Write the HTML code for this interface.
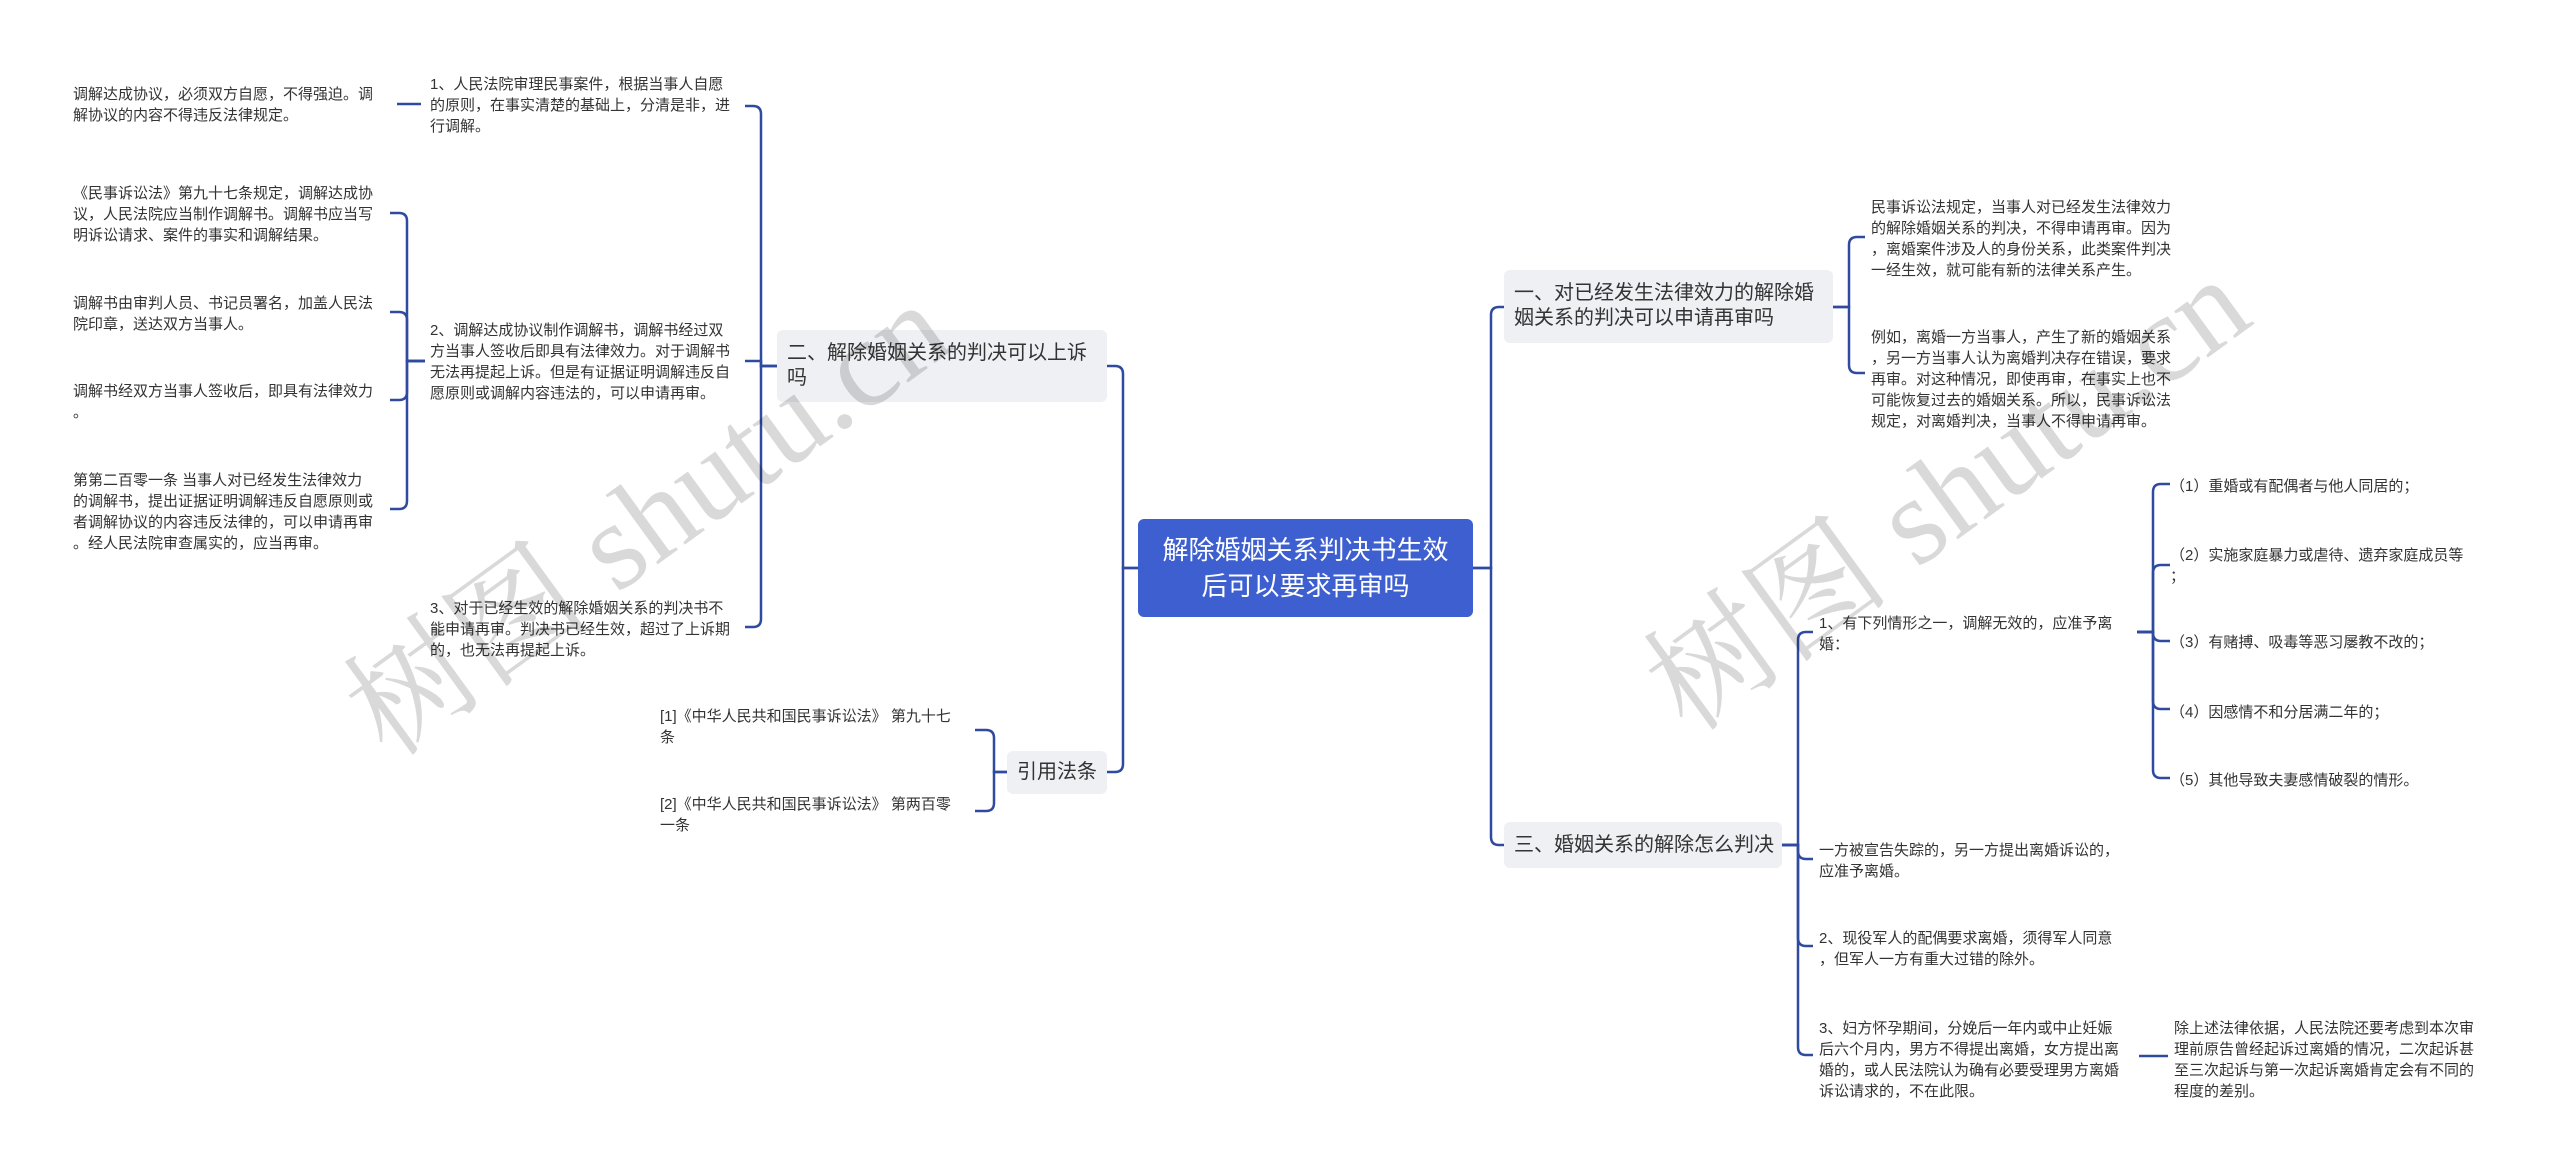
<!DOCTYPE html>
<html><head><meta charset="utf-8"><style>
html,body{margin:0;padding:0;background:#fff;}
#c{position:relative;width:2560px;height:1171px;overflow:hidden;font-family:"Liberation Sans","Noto Sans CJK SC",sans-serif;}
.t{position:absolute;font-size:15px;line-height:21px;color:#333;white-space:nowrap;}
.b{position:absolute;background:#eef0f4;border-radius:6px;color:#333;font-size:20px;line-height:25px;box-sizing:border-box;padding:0 10px;white-space:nowrap;}
.m{position:absolute;background:#3d5fcf;border-radius:6px;color:#fff;font-size:26px;line-height:36px;text-align:center;box-sizing:border-box;}
.w{position:absolute;font-family:"Liberation Serif","Noto Serif CJK SC",serif;font-size:125px;color:rgba(0,0,0,0.15);white-space:nowrap;transform:rotate(-36deg);transform-origin:center;}
svg{position:absolute;left:0;top:0;}
</style></head><body><div id="c">
<svg width="2560" height="1171" fill="none" stroke="#2f4a9f" stroke-width="2.5">
<path d="M1473 568 H1491 V315 Q1491 307 1499 307 H1504"/>
<path d="M1473 568 H1491 V837 Q1491 845 1499 845 H1504"/>
<path d="M1138 568 H1123 V374 Q1123 366 1115 366 H1107"/>
<path d="M1138 568 H1123 V764 Q1123 772 1115 772 H1107"/>
<path d="M777 366 H761 V114 Q761 106 753 106 H745"/>
<path d="M777 366 H761 V361 H745"/>
<path d="M777 366 H761 V619 Q761 627 753 627 H745"/>
<path d="M421 104 H397"/>
<path d="M425 361 H407 V221 Q407 213 399 213 H390"/>
<path d="M425 361 H407 V320 Q407 312 399 312 H390"/>
<path d="M425 361 H407 V392 Q407 400 399 400 H390"/>
<path d="M425 361 H407 V501 Q407 509 399 509 H390"/>
<path d="M1007 772 H994 V738 Q994 730 986 730 H975"/>
<path d="M1007 772 H994 V803 Q994 811 986 811 H975"/>
<path d="M1833 307 H1849 V245 Q1849 237 1857 237 H1865"/>
<path d="M1833 307 H1849 V365 Q1849 373 1857 373 H1865"/>
<path d="M1782 845 H1798 V640 Q1798 632 1806 632 H1813"/>
<path d="M1782 845 H1798 V851 Q1798 859 1806 859 H1813"/>
<path d="M1782 845 H1798 V938 Q1798 946 1806 946 H1813"/>
<path d="M1782 845 H1798 V1047 Q1798 1055 1806 1055 H1813"/>
<path d="M2137 632 H2153 V492 Q2153 484 2161 484 H2170"/>
<path d="M2137 632 H2153 V573 Q2153 565 2161 565 H2170"/>
<path d="M2137 632 H2153 V633 Q2153 641 2161 641 H2170"/>
<path d="M2137 632 H2153 V701 Q2153 709 2161 709 H2170"/>
<path d="M2137 632 H2153 V770 Q2153 778 2161 778 H2170"/>
<path d="M2139 1056 H2168"/>
</svg>

<div class="m" style="left:1138px;top:519px;width:335px;height:98px;padding-top:13px;">解除婚姻关系判决书生效<br>后可以要求再审吗</div>
<div class="b" style="left:777px;top:330px;width:330px;height:72px;padding-top:11px;">二、解除婚姻关系的判决可以上诉<br>吗</div>
<div class="b" style="left:1007px;top:751px;width:100px;height:43px;padding-top:9px;">引用法条</div>
<div class="b" style="left:1504px;top:270px;width:329px;height:73px;padding-top:11px;">一、对已经发生法律效力的解除婚<br>姻关系的判决可以申请再审吗</div>
<div class="b" style="left:1504px;top:822px;width:278px;height:46px;padding-top:11px;">三、婚姻关系的解除怎么判决</div>

<div class="t" style="left:73px;top:84px;">调解达成协议，必须双方自愿，不得强迫。调<br>解协议的内容不得违反法律规定。</div>
<div class="t" style="left:73px;top:183px;">《民事诉讼法》第九十七条规定，调解达成协<br>议，人民法院应当制作调解书。调解书应当写<br>明诉讼请求、案件的事实和调解结果。</div>
<div class="t" style="left:73px;top:293px;">调解书由审判人员、书记员署名，加盖人民法<br>院印章，送达双方当事人。</div>
<div class="t" style="left:73px;top:381px;">调解书经双方当事人签收后，即具有法律效力<br>。</div>
<div class="t" style="left:73px;top:470px;">第第二百零一条 当事人对已经发生法律效力<br>的调解书，提出证据证明调解违反自愿原则或<br>者调解协议的内容违反法律的，可以申请再审<br>。经人民法院审查属实的，应当再审。</div>

<div class="t" style="left:430px;top:74px;">1、人民法院审理民事案件，根据当事人自愿<br>的原则，在事实清楚的基础上，分清是非，进<br>行调解。</div>
<div class="t" style="left:430px;top:320px;">2、调解达成协议制作调解书，调解书经过双<br>方当事人签收后即具有法律效力。对于调解书<br>无法再提起上诉。但是有证据证明调解违反自<br>愿原则或调解内容违法的，可以申请再审。</div>
<div class="t" style="left:430px;top:598px;">3、对于已经生效的解除婚姻关系的判决书不<br>能申请再审。判决书已经生效，超过了上诉期<br>的，也无法再提起上诉。</div>

<div class="t" style="left:660px;top:706px;">[1]《中华人民共和国民事诉讼法》 第九十七<br>条</div>
<div class="t" style="left:660px;top:794px;">[2]《中华人民共和国民事诉讼法》 第两百零<br>一条</div>

<div class="t" style="left:1871px;top:197px;">民事诉讼法规定，当事人对已经发生法律效力<br>的解除婚姻关系的判决，不得申请再审。因为<br>，离婚案件涉及人的身份关系，此类案件判决<br>一经生效，就可能有新的法律关系产生。</div>
<div class="t" style="left:1871px;top:327px;">例如，离婚一方当事人，产生了新的婚姻关系<br>，另一方当事人认为离婚判决存在错误，要求<br>再审。对这种情况，即使再审，在事实上也不<br>可能恢复过去的婚姻关系。所以，民事诉讼法<br>规定，对离婚判决，当事人不得申请再审。</div>

<div class="t" style="left:1819px;top:613px;">1、有下列情形之一，调解无效的，应准予离<br>婚：</div>
<div class="t" style="left:2170px;top:476px;">（1）重婚或有配偶者与他人同居的；</div>
<div class="t" style="left:2170px;top:545px;">（2）实施家庭暴力或虐待、遗弃家庭成员等<br>；</div>
<div class="t" style="left:2170px;top:632px;">（3）有赌搏、吸毒等恶习屡教不改的；</div>
<div class="t" style="left:2170px;top:702px;">（4）因感情不和分居满二年的；</div>
<div class="t" style="left:2170px;top:770px;">（5）其他导致夫妻感情破裂的情形。</div>
<div class="t" style="left:1819px;top:840px;">一方被宣告失踪的，另一方提出离婚诉讼的，<br>应准予离婚。</div>
<div class="t" style="left:1819px;top:928px;">2、现役军人的配偶要求离婚，须得军人同意<br>，但军人一方有重大过错的除外。</div>
<div class="t" style="left:1819px;top:1018px;">3、妇方怀孕期间，分娩后一年内或中止妊娠<br>后六个月内，男方不得提出离婚，女方提出离<br>婚的，或人民法院认为确有必要受理男方离婚<br>诉讼请求的，不在此限。</div>
<div class="t" style="left:2174px;top:1018px;">除上述法律依据，人民法院还要考虑到本次审<br>理前原告曾经起诉过离婚的情况，二次起诉甚<br>至三次起诉与第一次起诉离婚肯定会有不同的<br>程度的差别。</div>

<div class="w" style="left:290px;top:420px;">树图 shutu.cn</div>
<div class="w" style="left:1590px;top:395px;">树图 shutu.cn</div>
</div></body></html>
